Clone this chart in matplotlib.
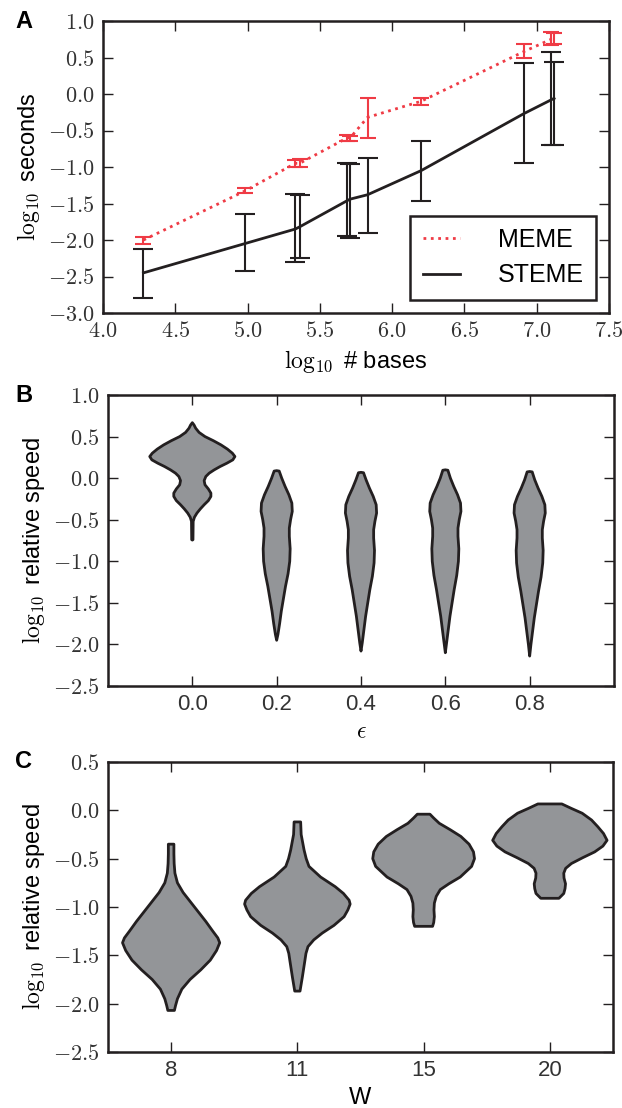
import numpy as np
import matplotlib
matplotlib.use("Agg")
import matplotlib.pyplot as plt
from matplotlib.ticker import FuncFormatter

plt.rcParams['font.family'] = ['Liberation Sans', 'DejaVu Sans']
plt.rcParams['mathtext.fontset'] = 'cm'

EDGE = '#231f20'
RED = '#ef3b45'
GREY = '#939598'

# Panel A - run time vs data size
sizes = [4.28, 4.98, 5.33, 5.36, 5.69, 5.71, 5.83, 6.20, 6.91, 7.10, 7.12]
meme_mean = [-2.00, -1.33, -0.95, -0.95, -0.60, -0.60, -0.32, -0.10, 0.58, 0.75, 0.75]
meme_lo = [-2.05, -1.36, -1.00, -1.00, -0.65, -0.64, -0.60, -0.15, 0.50, 0.67, 0.69]
meme_hi = [-1.96, -1.29, -0.90, -0.89, -0.56, -0.57, -0.06, -0.05, 0.69, 0.85, 0.84]
steme_mean = [-2.45, -2.05, -1.85, -1.82, -1.46, -1.44, -1.38, -1.05, -0.27, -0.08, -0.06]
steme_lo = [-2.79, -2.43, -2.30, -2.24, -1.95, -1.97, -1.90, -1.46, -0.95, -0.70, -0.70]
steme_hi = [-2.13, -1.65, -1.37, -1.38, -0.95, -0.96, -0.88, -0.64, 0.42, 0.57, 0.44]

# Panel B - violin outlines (y, half width) for each epsilon
eps = [0.0, 0.2, 0.4, 0.6, 0.8]
eps_y = [
    [0.667, 0.64, 0.60, 0.55, 0.50, 0.45, 0.40, 0.35, 0.30, 0.26, 0.22, 0.18, 0.14, 0.10,
     0.06, 0.02, -0.03, -0.08, -0.13, -0.18, -0.22, -0.27, -0.32, -0.37, -0.42, -0.47,
     -0.52, -0.74, -0.745],
    [0.09, 0.085, 0.0, -0.1, -0.2, -0.3, -0.4, -0.5, -0.6, -0.7, -0.85, -1.0, -1.15,
     -1.3, -1.45, -1.6, -1.75, -1.88, -1.95],
    [0.07, 0.065, -0.02, -0.12, -0.22, -0.32, -0.42, -0.52, -0.62, -0.72, -0.87, -1.02,
     -1.18, -1.34, -1.50, -1.66, -1.82, -1.98, -2.08],
    [0.10, 0.095, 0.0, -0.1, -0.2, -0.3, -0.4, -0.5, -0.6, -0.7, -0.85, -1.0, -1.17,
     -1.34, -1.50, -1.66, -1.82, -1.98, -2.10],
    [0.08, 0.075, -0.02, -0.12, -0.22, -0.32, -0.42, -0.52, -0.62, -0.72, -0.87, -1.02,
     -1.19, -1.36, -1.52, -1.68, -1.84, -2.00, -2.14],
]
eps_w = [
    [0.0, 0.004, 0.008, 0.016, 0.030, 0.050, 0.068, 0.083, 0.095, 0.101, 0.096, 0.082,
     0.066, 0.052, 0.040, 0.032, 0.028, 0.030, 0.038, 0.044, 0.044, 0.038, 0.028, 0.019,
     0.011, 0.005, 0.002, 0.0015, 0.0],
    [0.0, 0.006, 0.012, 0.020, 0.029, 0.036, 0.037, 0.033, 0.030, 0.030, 0.032, 0.031,
     0.027, 0.021, 0.016, 0.011, 0.007, 0.003, 0.0],
    [0.0, 0.006, 0.012, 0.020, 0.029, 0.036, 0.037, 0.033, 0.030, 0.030, 0.032, 0.031,
     0.027, 0.021, 0.016, 0.011, 0.007, 0.003, 0.0],
    [0.0, 0.006, 0.012, 0.020, 0.029, 0.036, 0.037, 0.033, 0.030, 0.030, 0.032, 0.031,
     0.027, 0.021, 0.016, 0.011, 0.007, 0.003, 0.0],
    [0.0, 0.006, 0.012, 0.020, 0.029, 0.036, 0.037, 0.033, 0.030, 0.030, 0.032, 0.031,
     0.027, 0.021, 0.016, 0.011, 0.007, 0.003, 0.0],
]

# Panel C - violin outlines for each motif width W
widths = ['8', '11', '15', '20']
w_y = [
    [-0.35, -0.45, -0.55, -0.65, -0.75, -0.85, -0.95, -1.05, -1.15, -1.25, -1.32, -1.37,
     -1.45, -1.55, -1.65, -1.75, -1.85, -1.95, -2.02, -2.07],
    [-0.12, -0.25, -0.41, -0.50, -0.58, -0.69, -0.79, -0.86, -0.93, -0.97, -1.03, -1.10,
     -1.19, -1.27, -1.34, -1.41, -1.48, -1.55, -1.72, -1.87],
    [-0.04, -0.08, -0.134, -0.20, -0.27, -0.35, -0.43, -0.50, -0.58, -0.69, -0.76, -0.82,
     -0.89, -0.96, -1.03, -1.10, -1.16, -1.20],
    [0.066, 0.02, -0.03, -0.10, -0.17, -0.24, -0.31, -0.37, -0.43, -0.49, -0.55, -0.60,
     -0.65, -0.70, -0.76, -0.81, -0.86, -0.91],
]
w_w = [
    [0.022, 0.022, 0.024, 0.030, 0.050, 0.095, 0.155, 0.215, 0.275, 0.330, 0.370, 0.385,
     0.360, 0.310, 0.235, 0.150, 0.085, 0.050, 0.035, 0.026],
    [0.026, 0.030, 0.053, 0.070, 0.092, 0.184, 0.300, 0.365, 0.410, 0.418, 0.400, 0.370,
     0.290, 0.197, 0.130, 0.084, 0.068, 0.060, 0.040, 0.021],
    [0.050, 0.080, 0.124, 0.210, 0.295, 0.360, 0.395, 0.403, 0.380, 0.290, 0.200, 0.132,
     0.100, 0.085, 0.082, 0.085, 0.080, 0.071],
    [0.095, 0.170, 0.256, 0.330, 0.380, 0.425, 0.453, 0.420, 0.355, 0.260, 0.171, 0.125,
     0.110, 0.112, 0.124, 0.120, 0.110, 0.072],
]


def math_fmt(v, pos):
    return r'$%.1f$' % v


def style_axes(ax):
    for s in ax.spines.values():
        s.set_linewidth(1.8)
        s.set_color(EDGE)
    ax.tick_params(direction='in', length=7, width=1, top=True, right=True,
                   colors=EDGE, labelcolor='#333333', pad=6)
    ax.yaxis.set_major_formatter(FuncFormatter(math_fmt))
    for t in ax.get_yticklabels():
        t.set_fontsize(16)


def violin(ax, pos, ys, hw):
    ys = np.array(ys)
    hw = np.array(hw)
    xs = np.concatenate([pos - hw, (pos + hw)[::-1]])
    yy = np.concatenate([ys, ys[::-1]])
    ax.fill(xs, yy, facecolor=GREY, edgecolor=EDGE, linewidth=2, joinstyle='round')


fig = plt.figure(figsize=(6.22, 11.08), dpi=100)

# A
ax = fig.add_axes([103 / 622, 1 - 313 / 1108, 506 / 622, 292 / 1108])
sx = np.array(sizes)
m = np.array(meme_mean)
s = np.array(steme_mean)
ax.errorbar(sx, m, yerr=[m - np.array(meme_lo), np.array(meme_hi) - m], fmt='none',
            ecolor=RED, elinewidth=1.5, capsize=6, capthick=1.5)
ax.errorbar(sx, s, yerr=[s - np.array(steme_lo), np.array(steme_hi) - s], fmt='none',
            ecolor=EDGE, elinewidth=1.5, capsize=7, capthick=1.5)
ax.plot(sx, m, ':', color=RED, lw=2, label='MEME')
ax.plot(sx, s, '-', color=EDGE, lw=2, label='STEME')
ax.set_xlim(4.0, 7.5)
ax.set_ylim(-3.0, 1.0)
ax.set_xticks(np.arange(4.0, 7.51, 0.5))
ax.set_yticks(np.arange(-3.0, 1.01, 0.5))
style_axes(ax)
ax.xaxis.set_major_formatter(FuncFormatter(math_fmt))
for t in ax.get_xticklabels():
    t.set_fontsize(16)
ax.set_xlabel(r'$\log_{10}$ # bases', fontsize=17, labelpad=4)
ax.set_ylabel(r'$\log_{10}$ seconds', fontsize=17, labelpad=4)
leg = ax.legend(loc='lower right', fontsize=18, fancybox=False, framealpha=1,
                handlelength=1.5, handletextpad=1.5, borderpad=0.5, labelspacing=0.45,
                borderaxespad=0, bbox_to_anchor=(0.975, 0.045))
leg.get_frame().set_edgecolor(EDGE)
leg.get_frame().set_linewidth(1.8)
fig.text(15 / 622, 1 - 22 / 1108, 'A', fontsize=17, fontweight='bold', va='center')

# B
ax = fig.add_axes([108 / 622, 1 - 686 / 1108, 506 / 622, 291 / 1108])
for p, ys, hw in zip(eps, eps_y, eps_w):
    violin(ax, p, ys, hw)
ax.set_xlim(-0.2, 1.0)
ax.set_ylim(-2.5, 1.0)
ax.set_xticks(eps)
ax.set_xticklabels(['%.1f' % e for e in eps], fontsize=16)
ax.set_yticks(np.arange(-2.5, 1.01, 0.5))
style_axes(ax)
ax.set_xlabel(r'$\epsilon$', fontsize=17, labelpad=4)
ax.set_ylabel(r'$\log_{10}$ relative speed', fontsize=17, labelpad=4)
fig.text(15 / 622, 1 - 395 / 1108, 'B', fontsize=17, fontweight='bold', va='center')

# C
ax = fig.add_axes([108 / 622, 1 - 1052 / 1108, 505 / 622, 290 / 1108])
for i, (ys, hw) in enumerate(zip(w_y, w_w)):
    violin(ax, i, ys, hw)
ax.set_xlim(-0.5, 3.5)
ax.set_ylim(-2.5, 0.5)
ax.set_xticks(range(len(widths)))
ax.set_xticklabels(widths, fontsize=16)
ax.set_yticks(np.arange(-2.5, 0.51, 0.5))
style_axes(ax)
ax.set_xlabel('W', fontsize=17, labelpad=4)
ax.set_ylabel(r'$\log_{10}$ relative speed', fontsize=17, labelpad=4)
fig.text(15 / 622, 1 - 762 / 1108, 'C', fontsize=17, fontweight='bold', va='center')

fig.savefig('out.png', dpi=100)
